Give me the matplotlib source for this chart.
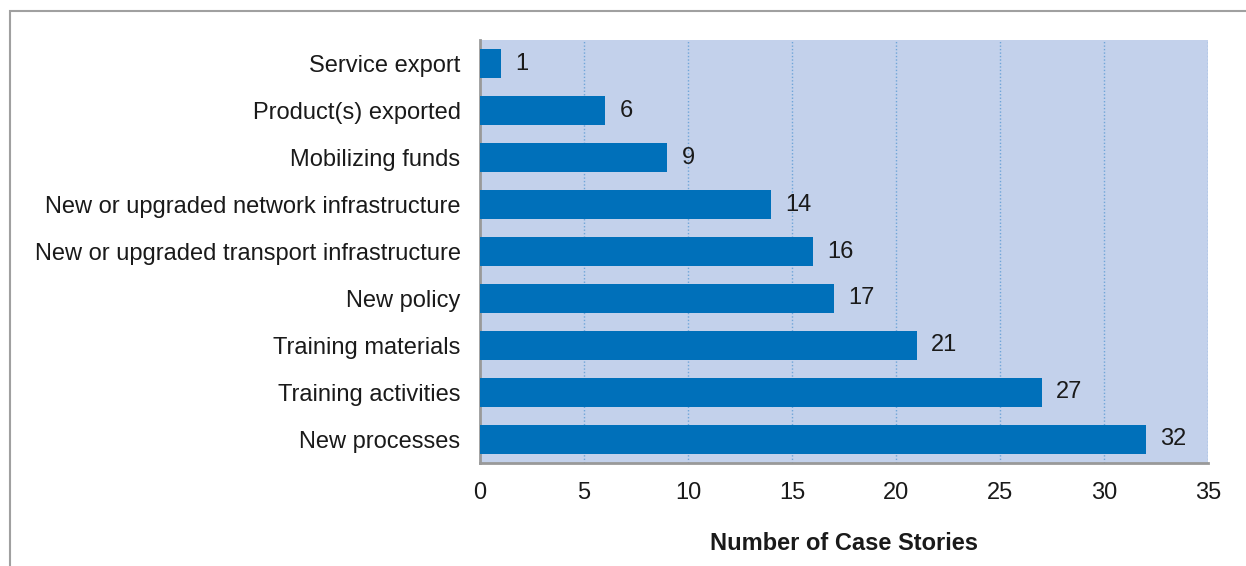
import matplotlib

matplotlib.use("Agg")

import matplotlib.pyplot as plt
from matplotlib.patches import Rectangle

categories = [
    "Service export",
    "Product(s) exported",
    "Mobilizing funds",
    "New or upgraded network infrastructure",
    "New or upgraded transport infrastructure",
    "New policy",
    "Training materials",
    "Training activities",
    "New processes",
]
counts = [1, 6, 9, 14, 16, 17, 21, 27, 32]
x_ticks = [0, 5, 10, 15, 20, 25, 30, 35]

plt.rcParams["font.family"] = ["Liberation Sans", "DejaVu Sans"]

fig = plt.figure(figsize=(12.46, 5.66), dpi=100)
ax = fig.add_axes([0.3852, 0.182, 0.5843, 0.7473])

# outer frame (only top and left edges show in the original)
fig.patches.append(Rectangle((0.008, -0.1), 1.2, 1.081, transform=fig.transFigure,
                             fill=False, edgecolor="#a0a0a0", linewidth=1.5))

ax.set_facecolor("#c3d1eb")
y_pos = list(range(len(categories)))
ax.barh(y_pos, counts, height=0.6, color="#0070ba", zorder=3)
ax.set_ylim(len(categories) - 0.5, -0.5)
ax.set_xlim(0, 35)
ax.set_yticks(y_pos)
ax.set_yticklabels(categories, fontsize=17, color="#1a1a1a")
ax.set_xticks(x_ticks)
ax.tick_params(axis="x", labelsize=17, colors="#1a1a1a", pad=14, length=0)
ax.tick_params(axis="y", length=0, pad=14)

for x in x_ticks[1:]:
    ax.axvline(x, color="#6fa5d8", linestyle=(0, (1, 1.5)), linewidth=1.0, zorder=2)

for spine in ("top", "right"):
    ax.spines[spine].set_visible(False)
for spine in ("left", "bottom"):
    ax.spines[spine].set_color("#999999")
    ax.spines[spine].set_linewidth(2)

for y, v in zip(y_pos, counts):
    ax.text(v + 0.7, y, str(v), va="center", ha="left", fontsize=17, color="#1a1a1a", zorder=4)

ax.set_xlabel("Number of Case Stories", fontsize=17, fontweight="bold", color="#1a1a1a", labelpad=20)

fig.savefig("out.png", dpi=100)
